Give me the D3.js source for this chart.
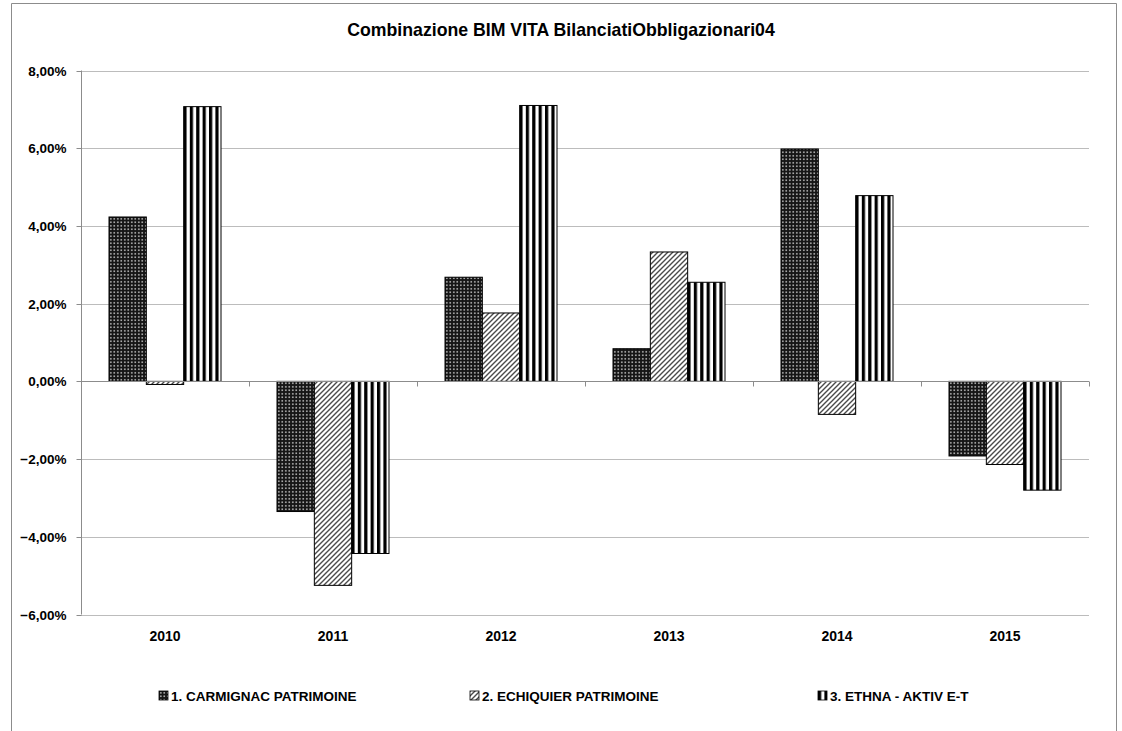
<!DOCTYPE html>
<html><head><meta charset="utf-8">
<script src="https://cdn.jsdelivr.net/npm/d3@7"></script>
<style>body{margin:0;background:#fff;} svg{display:block;font-family:"Liberation Sans",Arial,sans-serif;}</style>
</head><body>
<svg id="c" width="1122" height="731"></svg>
<script>
const title = "Combinazione BIM VITA BilanciatiObbligazionari04";
const categories = ["2010","2011","2012","2013","2014","2015"];
const seriesNames = ["1. CARMIGNAC PATRIMOINE","2. ECHIQUIER PATRIMOINE","3. ETHNA - AKTIV E-T"];
const carmignac = [4.23, -3.35, 2.68, 0.84, 5.98, -1.92];
const echiquier = [-0.08, -5.25, 1.76, 3.33, -0.85, -2.14];
const ethna = [7.07, -4.43, 7.10, 2.55, 4.78, -2.80];
const yTicks = [-6, -4, -2, 0, 2, 4, 6, 8];

const seriesValues = [carmignac, echiquier, ethna];
const svg = d3.select("#c");
const defs = svg.append("defs");

// patterns
const p1 = defs.append("pattern").attr("id","pat0").attr("patternUnits","userSpaceOnUse").attr("width",3.5).attr("height",3.5);
p1.append("rect").attr("width",3.5).attr("height",3.5).attr("fill","#151515");
p1.append("rect").attr("x",1).attr("y",1).attr("width",1.6).attr("height",1.6).attr("fill","#b8b8b8");
const p2 = defs.append("pattern").attr("id","pat1").attr("patternUnits","userSpaceOnUse").attr("width",5).attr("height",5);
p2.append("rect").attr("width",5).attr("height",5).attr("fill","#fff");
p2.append("path").attr("d","M-1,6 L6,-1 M-3.5,3.5 L3.5,-3.5 M1.5,8.5 L8.5,1.5").attr("stroke","#4a4a4a").attr("stroke-width",1.4);
const p3 = defs.append("pattern").attr("id","pat2").attr("patternUnits","userSpaceOnUse").attr("width",6.4).attr("height",6);
p3.append("rect").attr("width",6.4).attr("height",6).attr("fill","#fff");
p3.append("rect").attr("x",0).attr("width",3.2).attr("height",6).attr("fill","#000");

// border
svg.append("path").attr("d","M11.5,731 L11.5,3.5 L1116.5,3.5 L1116.5,731").attr("fill","none").attr("stroke","#8c8c8c").attr("stroke-width",1);

const x0 = d3.scaleBand().domain(categories).range([81, 1089]).paddingInner(0).paddingOuter(0);
const x1 = d3.scaleBand().domain(d3.range(3)).range([0, x0.bandwidth()]).paddingInner(0).paddingOuter(0.75);
const y = d3.scaleLinear().domain([-6, 8]).range([614.5, 70.5]);

// gridlines
svg.append("g").selectAll("line").data(yTicks).join("line")
  .attr("x1",81).attr("x2",1089).attr("y1",d=>Math.round(y(d))+0.5).attr("y2",d=>Math.round(y(d))+0.5)
  .attr("stroke","#bcbcbc").attr("stroke-width",1);

// y axis
const yAxis = d3.axisLeft(y).tickValues(yTicks).tickSize(5).tickPadding(10)
  .tickFormat(d => d3.format(".2f")(d).replace(".", ",") + "%");
const ga = svg.append("g").attr("transform","translate(81.5,0)").call(yAxis);
ga.select(".domain").attr("stroke","#8c8c8c").attr("d","M0,"+y(8)+"V"+y(-6));
ga.selectAll(".tick line").attr("stroke","#8c8c8c");
ga.selectAll(".tick").attr("transform", d => "translate(0," + (Math.round(y(d))+0.5) + ")");
ga.selectAll("text").attr("font-size",13.5).attr("font-weight","bold").attr("fill","#000")
  .attr("font-family","'Liberation Sans',Arial,sans-serif");

// bars
const groups = svg.append("g").selectAll("g").data(categories).join("g")
  .attr("transform", c => "translate(" + x0(c) + ",0)");
groups.selectAll("rect").data((c,i) => seriesValues.map((s,k) => ({k, v: s[i]}))).join("rect")
  .attr("x", d => x1(d.k)).attr("width", x1.bandwidth())
  .attr("y", d => Math.min(y(d.v), y(0))).attr("height", d => Math.abs(y(d.v) - y(0)))
  .attr("fill", d => "url(#pat" + d.k + ")").attr("stroke","#000").attr("stroke-width",1);

// zero axis line
svg.append("line").attr("x1",81).attr("x2",1089).attr("y1",Math.round(y(0))+0.5).attr("y2",Math.round(y(0))+0.5)
  .attr("stroke","#8c8c8c");
// category boundary ticks
svg.append("g").selectAll("line").data(d3.range(categories.length+1)).join("line")
  .attr("x1", i => Math.round(81 + i*x0.step())+0.5).attr("x2", i => Math.round(81 + i*x0.step())+0.5)
  .attr("y1", Math.round(y(0))+0.5).attr("y2", Math.round(y(0))+5.5).attr("stroke","#8c8c8c");

// category labels
svg.append("g").selectAll("text").data(categories).join("text")
  .attr("x", c => x0(c) + x0.bandwidth()/2).attr("y", 641)
  .attr("text-anchor","middle").attr("font-size",14).attr("font-weight","bold").text(c => c);

// title
svg.append("text").attr("x",561).attr("y",36).attr("text-anchor","middle")
  .attr("font-size",17.7).attr("font-weight","bold").text(title);

// legend
const legX = [159, 470, 818];
const leg = svg.append("g").selectAll("g").data(seriesNames).join("g")
  .attr("transform",(d,i)=>"translate(" + legX[i] + ",691)");
leg.append("rect").attr("width",9).attr("height",9).attr("fill",(d,i)=>"url(#pat"+i+")").attr("stroke","#000").attr("stroke-width",0.8);
leg.append("text").attr("x",12).attr("y",9.5).attr("font-size",13.5).attr("font-weight","bold").text(d=>d);
</script>
</body></html>
